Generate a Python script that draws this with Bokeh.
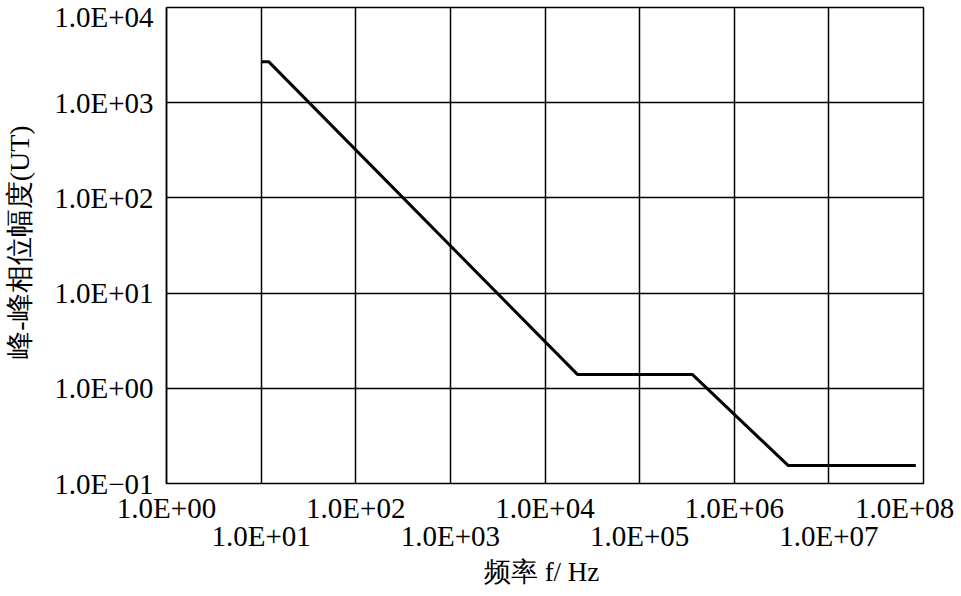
from bokeh.plotting import figure
from bokeh.models import LogAxis, FixedTicker, Range1d
from bokeh.embed import file_html
from bokeh.resources import INLINE

# ---- data ----
freq_hz = [10.0, 12.0, 2.2e4, 3.6e5, 3.7e6, 8.3e7]
amplitude_ut = [2700.0, 2700.0, 1.4, 1.4, 0.155, 0.155]

x_ticks_even = [1.0, 1e2, 1e4, 1e6, 1e8]
x_labels_even = ["1.0E+00", "1.0E+02", "1.0E+04", "1.0E+06", "1.0E+08\u00a0"]
x_ticks_odd = [1e1, 1e3, 1e5, 1e7]
x_labels_odd = ["1.0E+01", "1.0E+03", "1.0E+05", "1.0E+07"]
y_ticks = [1e-1, 1.0, 1e1, 1e2, 1e3, 1e4]
y_labels = ["1.0E\u221201", "1.0E+00", "1.0E+01", "1.0E+02", "1.0E+03", "1.0E+04"]

x_title = "频率 f/ Hz\u00a0"
y_title = "\u00a0峰-峰相位幅度(UT)"

SERIF = "Liberation Serif"
TICK_PT = "29px"

p = figure(width=961, height=596, x_axis_type="log", y_axis_type="log",
           x_range=Range1d(1.0, 1e8), y_range=Range1d(0.1, 1e4),
           output_backend="svg", toolbar_location=None,
           min_border_left=166, min_border_right=38,
           min_border_top=7, min_border_bottom=113,
           x_axis_location=None)
p.background_fill_color = "white"
p.border_fill_color = "white"
p.outline_line_color = "black"
p.outline_line_width = 1.5

# grids
p.xgrid.ticker = FixedTicker(ticks=sorted(x_ticks_even + x_ticks_odd))
p.ygrid.ticker = FixedTicker(ticks=y_ticks)
for g in (p.xgrid, p.ygrid):
    g.grid_line_color = "black"
    g.grid_line_width = 1.5
    g.minor_grid_line_color = None

# y axis
ya = p.yaxis[0]
ya.ticker = FixedTicker(ticks=y_ticks)
ya.major_label_overrides = {float(t): l for t, l in zip(y_ticks, y_labels)}
ya.major_tick_out = 0
ya.major_tick_in = 0
ya.minor_tick_out = 0
ya.minor_tick_in = 0
ya.axis_line_color = "black"
ya.axis_line_width = 1.5
ya.major_label_text_font = SERIF
ya.major_label_text_font_size = TICK_PT
ya.major_label_text_color = "black"
ya.major_label_standoff = 13
ya.axis_label = y_title
ya.axis_label_text_font = SERIF
ya.axis_label_text_font_size = "28px"
ya.axis_label_text_font_style = "normal"
ya.axis_label_text_color = "black"
ya.axis_label_standoff = 16


def make_xaxis(ticks, labels, standoff):
    ax = LogAxis(ticker=FixedTicker(ticks=ticks))
    ax.major_label_overrides = {float(t): l for t, l in zip(ticks, labels)}
    ax.major_tick_out = 0
    ax.major_tick_in = 0
    ax.minor_tick_out = 0
    ax.minor_tick_in = 0
    ax.axis_line_color = None
    ax.major_label_text_font = SERIF
    ax.major_label_text_font_size = TICK_PT
    ax.major_label_text_color = "black"
    ax.major_label_standoff = standoff
    return ax


xa1 = make_xaxis(x_ticks_even, x_labels_even, 8)
xa2 = make_xaxis(x_ticks_odd, x_labels_odd, -7)
xa2.axis_label = x_title
xa2.axis_label_text_font = SERIF
xa2.axis_label_text_font_size = "27px"
xa2.axis_label_text_font_style = "normal"
xa2.axis_label_text_color = "black"
xa2.axis_label_standoff = 2
p.add_layout(xa1, "below")
p.add_layout(xa2, "below")

p.line(freq_hz, amplitude_ut, line_color="black", line_width=3)

open("out.html", "w").write(file_html(p, INLINE))
